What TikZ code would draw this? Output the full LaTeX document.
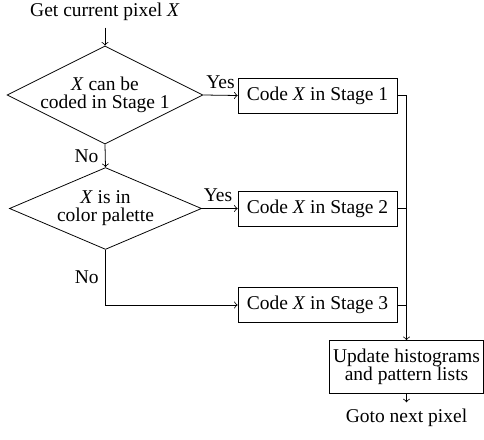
\documentclass[tikz,border=0pt]{standalone}
\usepackage{fontspec}
\setmainfont{Liberation Serif}
\usetikzlibrary{shapes.geometric}
\begin{document}
\begin{tikzpicture}[x=0.5128pt,y=-0.5128pt,
  every node/.style={font=\fontsize{10}{9.3}\selectfont},
  decision/.style={draw,diamond,align=center,inner sep=0pt},
  stagebox/.style={draw,rectangle,minimum width=81.5pt,minimum height=17.9pt,inner sep=0pt},
  updbox/.style={draw,rectangle,align=center,minimum width=79pt,minimum height=26.9pt,inner sep=0pt},
  plaintext/.style={inner sep=3.3pt},
  conn/.style={->}]
\useasboundingbox (0,0) rectangle (484,440);
\node[plaintext] (start) at (105,12) {Get current pixel \textit{X}};
\node[decision,aspect=2,inner sep=-0.5pt,minimum width=100.5pt,minimum height=50.3pt] (d1) at (105,95) {\textit{X} can be\\coded in Stage 1};
\node[decision,aspect=2.35,minimum width=98.5pt,minimum height=42pt] (d2) at (105.5,208.5) {\textit{X} is in\\color palette};
\node[stagebox] (b1) at (317.5,95.5) {Code \textit{X} in Stage 1};
\node[stagebox] (b2) at (317.5,208.5) {Code \textit{X} in Stage 2};
\node[stagebox] (b3) at (317.5,305) {Code \textit{X} in Stage 3};
\node[updbox] (upd) at (406.5,366.8) {Update histograms\\and pattern lists};
\node[plaintext] (goto) at (406.5,418) {Goto next pixel};
\draw[conn] (start) -- (d1.north);
\draw[conn] (d1.east) -- node[above,pos=0.5] {Yes} (b1.west);
\draw[conn] (d1.south) -- node[left] {No} (d2.north);
\draw[conn] (d2.east) -- node[above,pos=0.45] {Yes} (b2.west);
\draw[conn] (d2.south) |- node[left,pos=0.25] {No} (b3.west);
\draw[conn] (b1.east) -| (upd.north);
\draw (b2.east) -- (b2.east -| upd.north);
\draw (b3.east) -- (b3.east -| upd.north);
\draw[conn] (upd.south) -- (goto);
\end{tikzpicture}
\end{document}
